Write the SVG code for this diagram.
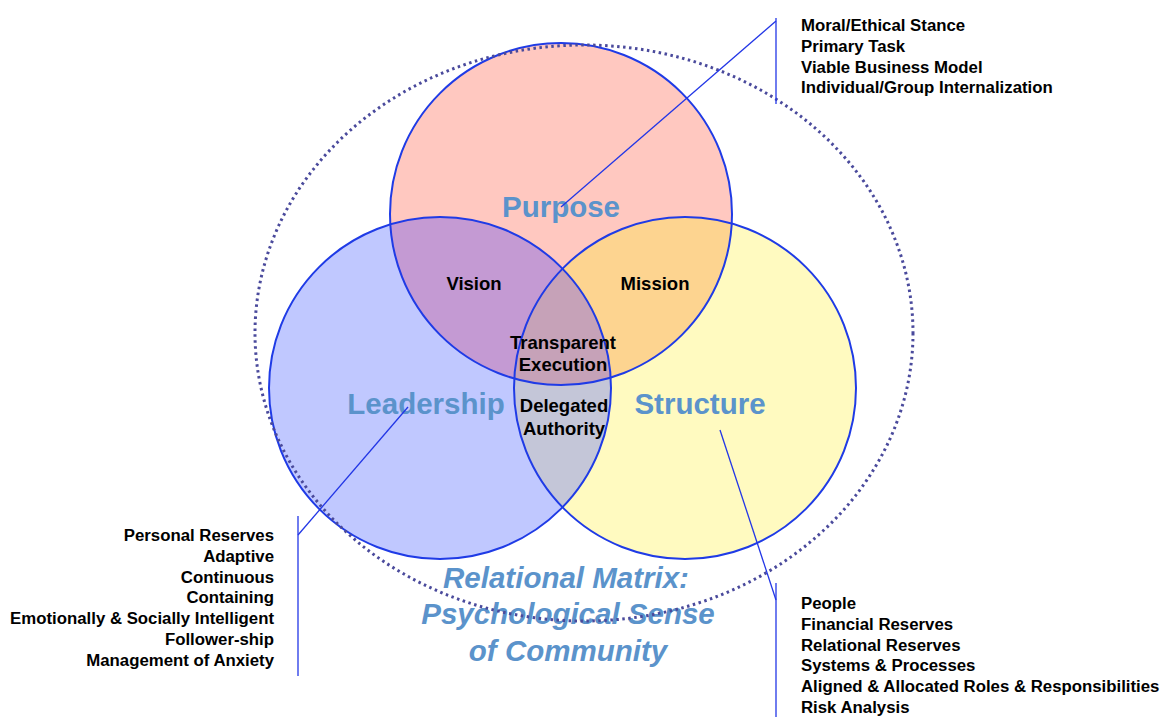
<svg xmlns="http://www.w3.org/2000/svg" width="1166" height="717" viewBox="0 0 1166 717">
<style>
.ring{fill:none;stroke:#1f3be6;stroke-width:2}
.big{font-family:"Liberation Sans",Arial,sans-serif;font-weight:bold;font-size:29.5px;fill:#5b93cb;text-anchor:middle}
.ital{font-style:italic}
.mid{font-family:"Liberation Sans",Arial,sans-serif;font-weight:bold;font-size:18.5px;fill:#000;text-anchor:middle}
.lst{font-family:"Liberation Sans",Arial,sans-serif;font-weight:bold;font-size:16.8px;fill:#000}
.conn{stroke:#2236e6;stroke-width:1.3;fill:none}
</style>
<defs>
<clipPath id="cP"><circle cx="561" cy="214" r="171"/></clipPath>
<clipPath id="cL"><circle cx="440" cy="388" r="171"/></clipPath>
<clipPath id="cS"><circle cx="685" cy="388" r="171"/></clipPath>
</defs>
<rect width="1166" height="717" fill="#fff"/>
<g id="fills">
<circle cx="561" cy="214" r="171" fill="#ffc8c0"/>
<circle cx="440" cy="388" r="171" fill="#c0c8ff"/>
<circle cx="685" cy="388" r="171" fill="#fffac0"/>
<circle cx="440" cy="388" r="171" fill="#c49ad3" clip-path="url(#cP)"/>
<circle cx="685" cy="388" r="171" fill="#fdd490" clip-path="url(#cP)"/>
<circle cx="685" cy="388" r="171" fill="#c4c6d8" clip-path="url(#cL)"/>
<g clip-path="url(#cP)"><circle cx="685" cy="388" r="171" fill="#c6a2b8" clip-path="url(#cL)"/></g>
</g>
<g id="purpose"><circle class="ring" cx="561" cy="214" r="171"/><text class="big" x="561" y="217">Purpose</text></g>
<g id="leadership"><circle class="ring" cx="440" cy="388" r="171"/><text class="big" x="426" y="414">Leadership</text></g>
<g id="structure"><circle class="ring" cx="685" cy="388" r="171"/><text class="big" x="700" y="414">Structure</text></g>
<g id="vision"><text class="mid" x="474" y="290">Vision</text></g>
<g id="mission"><text class="mid" x="655" y="290">Mission</text></g>
<g id="transparent-execution"><text class="mid" x="563" y="349">Transparent</text><text class="mid" x="563" y="371">Execution</text></g>
<g id="delegated-authority"><text class="mid" x="564" y="412">Delegated</text><text class="mid" x="564" y="435">Authority</text></g>
<g id="relational-matrix">
<text class="big ital" x="566" y="588">Relational Matrix:</text>
<text class="big ital" x="568" y="624">Psychological Sense</text>
<text class="big ital" x="568" y="661">of Community</text>
</g>
<ellipse id="community" cx="584" cy="333" rx="329" ry="288" fill="none" stroke="#4a4a9c" stroke-width="3" stroke-dasharray="2.5 3.5"/>
<g id="connectors">
<line class="conn" x1="776" y1="18" x2="776" y2="104"/>
<line class="conn" x1="776" y1="21" x2="561" y2="207"/>
<line class="conn" x1="298" y1="516" x2="298" y2="676"/>
<line class="conn" x1="298" y1="535" x2="408" y2="407"/>
<line class="conn" x1="776" y1="583" x2="776" y2="717"/>
<line class="conn" x1="776" y1="600" x2="720" y2="430"/>
</g>
<g id="purpose-list">
<text class="lst" x="801" y="31">Moral/Ethical Stance</text>
<text class="lst" x="801" y="52">Primary Task</text>
<text class="lst" x="801" y="73">Viable Business Model</text>
<text class="lst" x="801" y="93">Individual/Group Internalization</text>
</g>
<g id="leadership-list" text-anchor="end">
<text class="lst" x="274" y="541">Personal Reserves</text>
<text class="lst" x="274" y="562">Adaptive</text>
<text class="lst" x="274" y="583">Continuous</text>
<text class="lst" x="274" y="603">Containing</text>
<text class="lst" x="274" y="624">Emotionally &amp; Socially Intelligent</text>
<text class="lst" x="274" y="645">Follower-ship</text>
<text class="lst" x="274" y="666">Management of Anxiety</text>
</g>
<g id="structure-list">
<text class="lst" x="801" y="609">People</text>
<text class="lst" x="801" y="630">Financial Reserves</text>
<text class="lst" x="801" y="651">Relational Reserves</text>
<text class="lst" x="801" y="671">Systems &amp; Processes</text>
<text class="lst" x="801" y="692">Aligned &amp; Allocated Roles &amp; Responsibilities</text>
<text class="lst" x="801" y="713">Risk Analysis</text>
</g>
</svg>
